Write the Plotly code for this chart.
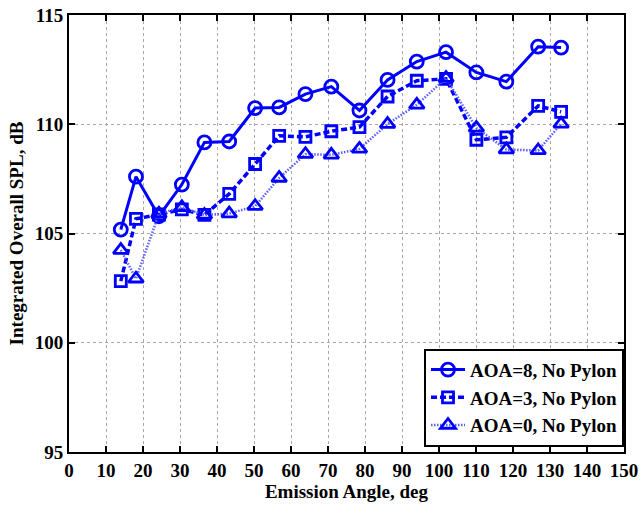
import plotly.graph_objects as go

# Emission angles (deg)
angle = [14.0, 18.1, 24.3, 30.5, 36.6, 43.3, 50.3, 56.8, 63.9, 70.9,
         78.5, 86.1, 94.0, 101.9, 110.1, 118.2, 126.8, 133.0]

# Integrated overall SPL (dB) per angle of attack
spl_aoa8 = [105.18, 107.6, 105.79, 107.24, 109.17, 109.21, 110.74, 110.77, 111.38, 111.72,
            110.63, 112.03, 112.87, 113.3, 112.37, 111.95, 113.55, 113.51]
spl_aoa3 = [102.82, 105.67, 105.87, 106.1, 105.85, 106.81, 108.18, 109.47, 109.42, 109.68,
            109.87, 111.27, 111.99, 112.08, 109.29, 109.40, 110.84, 110.57]
spl_aoa0 = [104.24, 102.93, 105.9, 106.2, 105.85, 105.91, 106.25, 107.54, 108.63, 108.6,
            108.87, 110.01, 110.89, 112.11, 109.83, 108.84, 108.8, 110.02]

names = ["AOA=8, No Pylon", "AOA=3, No Pylon", "AOA=0, No Pylon"]
x_ticks = list(range(0, 151, 10))
y_ticks = list(range(95, 116, 5))

BLUE = "#0000ff"
FONT = "Liberation Serif"

fig = go.Figure()
fig.add_trace(go.Scatter(
    x=angle, y=spl_aoa8, name=names[0], mode="lines+markers",
    line=dict(color=BLUE, width=3, dash="solid"),
    marker=dict(symbol="circle-open", size=13, color=BLUE, line=dict(width=2.8, color=BLUE)),
))
fig.add_trace(go.Scatter(
    x=angle, y=spl_aoa3, name=names[1], mode="lines+markers",
    line=dict(color=BLUE, width=3.5, dash="6px,3px"),
    marker=dict(symbol="square-open", size=11, color=BLUE, line=dict(width=2.8, color=BLUE)),
))
fig.add_trace(go.Scatter(
    x=angle, y=spl_aoa0, name=names[2], mode="lines+markers",
    line=dict(color="#5c5cff", width=2.5, dash="1.5px,1.5px"),
    marker=dict(symbol="triangle-up-open", size=13, color=BLUE, line=dict(width=2.8, color=BLUE)),
))

axis_common = dict(
    showline=True, linecolor="black", linewidth=2, mirror="ticks",
    ticks="inside", ticklen=6, tickwidth=2, tickcolor="black",
    showgrid=True, gridcolor="#a8a8a8", gridwidth=1, griddash="dot",
    zeroline=False, automargin=False,
    tickfont=dict(family=FONT, size=19, color="black", weight="bold"),
)

fig.update_xaxes(
    range=[0, 150], tickvals=x_ticks,
    title=dict(text="<b>Emission Angle, deg</b>", font=dict(family=FONT, size=19, color="black"),
               standoff=4),
    **axis_common,
)
fig.update_yaxes(
    range=[95, 115], tickvals=y_ticks,
    title=dict(text="<b>Integrated Overall SPL, dB</b>", font=dict(family=FONT, size=19, color="black"),
               standoff=6),
    **axis_common,
)

fig.update_layout(
    width=642, height=505,
    margin=dict(l=69, r=18, t=15, b=53),
    plot_bgcolor="white", paper_bgcolor="white",
    legend=dict(
        x=1.0, y=0.012, xanchor="right", yanchor="bottom",
        bgcolor="white", bordercolor="black", borderwidth=2,
        font=dict(family=FONT, size=19, color="black", weight="bold"),
        tracegroupgap=0, itemwidth=34,
    ),
)

fig.write_html("out.html")
